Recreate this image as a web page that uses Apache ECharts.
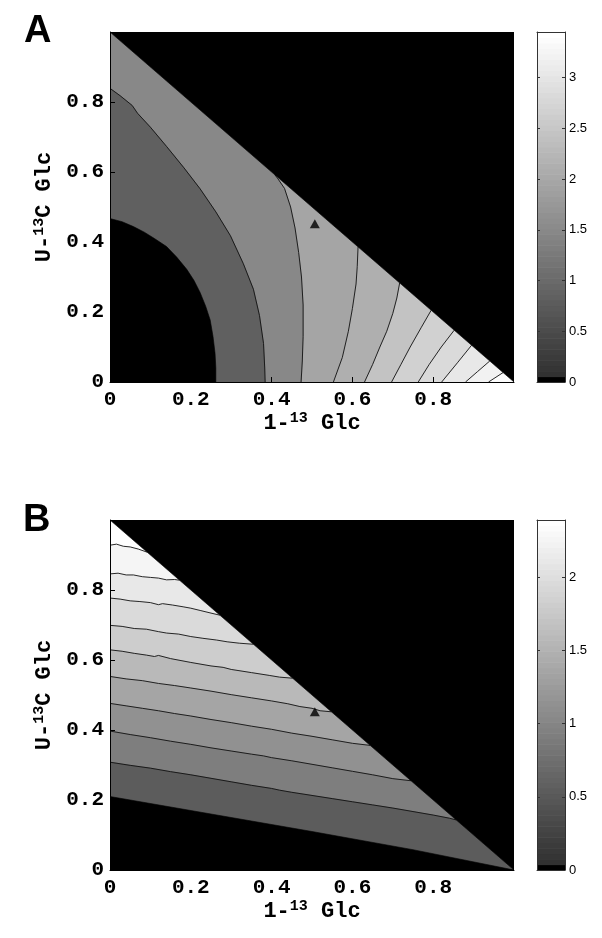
<!DOCTYPE html>
<html><head><meta charset="utf-8">
<script src="https://cdn.jsdelivr.net/npm/echarts@6/dist/echarts.min.js"></script>
<style>html,body{margin:0;padding:0;background:#fff}#c{width:602px;height:938px}</style>
</head><body><div id="c"></div>
<script>
// ---------------- DATA ----------------
var xTicks = [0, 0.2, 0.4, 0.6, 0.8];
var cbMaxA = 3.45, cbMaxB = 2.39;
var markerA = [[0.507, 0.452]];
var markerB = [[0.507, 0.452]];

// Panel A: contour lines (x = 1-13 Glc, y = U-13C Glc), low side toward origin
var innerA = [[0,0.467],[0.03,0.458],[0.058,0.444],[0.085,0.428],[0.11,0.41],[0.14,0.387],[0.165,0.357],[0.19,0.322],[0.208,0.29],[0.223,0.256],[0.237,0.216],[0.248,0.177],[0.255,0.13],[0.26,0.082],[0.262,0.04],[0.262,0]];
var line1A = [[0,0.839],[0.025,0.818],[0.055,0.79],[0.068,0.768],[0.1,0.728],[0.14,0.673],[0.183,0.612],[0.223,0.552],[0.262,0.486],[0.298,0.418],[0.33,0.338],[0.355,0.265],[0.37,0.19],[0.38,0.11],[0.383,0.04],[0.384,0]];
var line2A = [[0.408,0.592],[0.416,0.58],[0.432,0.553],[0.447,0.5],[0.458,0.44],[0.467,0.37],[0.474,0.3],[0.478,0.22],[0.478,0.13],[0.476,0.06],[0.473,0]];
var line3A = [[0.614,0.386],[0.612,0.33],[0.609,0.28],[0.6,0.21],[0.59,0.145],[0.575,0.07],[0.553,0]];
var line4A = [[0.717,0.283],[0.71,0.24],[0.7,0.196],[0.685,0.145],[0.668,0.1],[0.65,0.05],[0.63,0]];
var line5A = [[0.795,0.205],[0.77,0.155],[0.743,0.1],[0.72,0.05],[0.697,0]];
var line6A = [[0.852,0.148],[0.82,0.1],[0.79,0.05],[0.763,0]];
var line7A = [[0.895,0.105],[0.86,0.055],[0.821,0]];
var line8A = [[0.94,0.06],[0.91,0.03],[0.88,0]];
var line9A = [[0.973,0.027],[0.937,0]];
var bandA = [0.85, 1.5, 1.95, 2.15, 2.45, 2.65, 2.85, 3.05, 3.2, 3.37];

// Panel B: contour lines, low side toward bottom
var innerB = [[0,0.21],[0.25,0.16],[0.5,0.11],[0.75,0.058],[1,0]];
var line1B = [[0,0.308],[0.05,0.299],[0.1,0.291],[0.15,0.281],[0.2,0.272],[0.25,0.262],[0.3,0.252],[0.35,0.242],[0.4,0.233],[0.42,0.228],[0.45,0.222],[0.5,0.213],[0.55,0.204],[0.6,0.195],[0.65,0.186],[0.7,0.177],[0.75,0.167],[0.8,0.157],[0.84,0.148],[0.857,0.143]];
var line2B = [[0,0.397],[0.05,0.387],[0.1,0.378],[0.15,0.368],[0.2,0.359],[0.25,0.349],[0.3,0.34],[0.35,0.331],[0.38,0.326],[0.4,0.321],[0.45,0.312],[0.5,0.302],[0.55,0.292],[0.6,0.282],[0.65,0.272],[0.7,0.261],[0.745,0.255]];
var line3B = [[0,0.476],[0.04,0.469],[0.08,0.462],[0.12,0.455],[0.16,0.447],[0.2,0.44],[0.25,0.43],[0.3,0.421],[0.35,0.411],[0.4,0.402],[0.45,0.391],[0.5,0.382],[0.55,0.372],[0.6,0.362],[0.644,0.356]];
var line4B = [[0,0.553],[0.04,0.546],[0.08,0.541],[0.12,0.533],[0.16,0.527],[0.2,0.52],[0.25,0.511],[0.3,0.501],[0.35,0.492],[0.4,0.483],[0.44,0.475],[0.47,0.467],[0.5,0.462],[0.52,0.455],[0.548,0.452]];
var line5B = [[0,0.629],[0.03,0.625],[0.06,0.619],[0.09,0.614],[0.11,0.61],[0.12,0.613],[0.15,0.604],[0.2,0.593],[0.25,0.583],[0.28,0.579],[0.3,0.573],[0.35,0.564],[0.394,0.556],[0.42,0.551],[0.452,0.548]];
var line6B = [[0,0.699],[0.03,0.696],[0.06,0.69],[0.09,0.688],[0.12,0.681],[0.14,0.677],[0.17,0.674],[0.2,0.667],[0.23,0.662],[0.264,0.657],[0.29,0.652],[0.32,0.648],[0.355,0.645]];
var line7B = [[0,0.777],[0.025,0.774],[0.05,0.769],[0.074,0.767],[0.1,0.764],[0.12,0.758],[0.13,0.761],[0.155,0.757],[0.181,0.752],[0.2,0.748],[0.225,0.741],[0.25,0.734],[0.272,0.728]];
var line8B = [[0,0.846],[0.02,0.848],[0.04,0.843],[0.058,0.843],[0.08,0.838],[0.1,0.836],[0.12,0.834],[0.14,0.829],[0.16,0.83],[0.172,0.828]];
var line9B = [[0,0.928],[0.016,0.931],[0.033,0.925],[0.05,0.923],[0.07,0.917],[0.092,0.908]];
var bandB = [0.53, 0.90, 1.15, 1.37, 1.6, 1.8, 1.97, 2.12, 2.25, 2.36];

// feasible domain (x + y <= 1) and infeasible region
var domain = [[0,0],[1,0],[0,1]];
var infeasible = [[0,1],[1,1],[1,0]];
var cornersA = [[0,0],[0,1]];
var cornersB = [[1,0],[0,0]];

// ---------------- RENDER ----------------
var MONO = '"Liberation Mono","Courier New",monospace';
var SANS = '"Liberation Sans",Arial,sans-serif';
var NLEV = 64;
function cmapIdx(i){
  if (i <= 0) return '#000';
  var g = Math.round((0.18 + 0.82 * i / (NLEV - 1)) * 255);
  return 'rgb(' + g + ',' + g + ',' + g + ')';
}
function cmap(v, vmax){
  var i = Math.min(NLEV - 1, Math.floor(v / vmax * NLEV));
  return cmapIdx(i);
}

function buildFills(lines, inner, bands, corners, vmax){
  var polys = [domain], cols = [cmap(bands[bands.length - 1], vmax)];
  for (var k = lines.length - 1; k >= 0; k--){
    polys.push(lines[k].concat(corners));
    cols.push(cmap(bands[k], vmax));
  }
  polys.push(inner.concat(corners));
  cols.push('#000');
  return {polys: polys, cols: cols};
}
function polySeries(polys, cols, xi, yi, z){
  return {
    type: 'custom', xAxisIndex: xi, yAxisIndex: yi, z: z, silent: true, clip: true,
    data: polys.map(function(p, i){ return [p[0][0], p[0][1], i]; }),
    renderItem: function(params, api){
      var i = params.dataIndex;
      var pts = polys[i].map(function(p){ return api.coord(p); });
      return {type: 'polygon', shape: {points: pts},
        style: {fill: cols[i], stroke: cols[i], lineWidth: 0.6}};
    }
  };
}
function lineSeries(pts, xi, yi){
  return {type: 'line', xAxisIndex: xi, yAxisIndex: yi, data: pts, z: 3, silent: true,
    symbol: 'none', clip: true, lineStyle: {color: '#111', width: 0.9}};
}
function colorbarSeries(vmax, xi, yi){
  var strips = [];
  for (var i = 0; i < NLEV; i++) strips.push([0.5, (i + 0.5) * vmax / NLEV, i]);
  return {
    type: 'custom', xAxisIndex: xi, yAxisIndex: yi, silent: true, z: 1,
    data: strips,
    renderItem: function(params, api){
      var i = params.dataIndex;
      var p0 = api.coord([0, i * vmax / NLEV]);
      var p1 = api.coord([1, (i + 1) * vmax / NLEV]);
      return {type: 'rect', shape: {x: p0[0], y: p1[1], width: p1[0] - p0[0], height: p0[1] - p1[1] + 0.6},
        style: {fill: cmapIdx(i)}};
    }
  };
}

var nameRich = {
  m: {fontFamily: MONO, fontSize: 22, fontWeight: 'bold', color: '#000', lineHeight: 24, verticalAlign: 'bottom'},
  s: {fontFamily: MONO, fontSize: 15, fontWeight: 'bold', color: '#000', lineHeight: 15, verticalAlign: 'top'}
};
function fmt(v){ return xTicks.indexOf(+v.toFixed(1)) >= 0 ? String(+v.toFixed(1)) : ''; }
function mainX(grid){
  return {type: 'value', gridIndex: grid, min: 0, max: 1, interval: 0.2, z: 10,
    name: '{m|1-}{s|13}{m| Glc}', nameLocation: 'middle', nameGap: 28,
    nameTextStyle: {rich: nameRich},
    axisLine: {lineStyle: {color: '#000', width: 1}},
    axisTick: {inside: true, length: 5, lineStyle: {color: '#000'}},
    axisLabel: {fontFamily: MONO, fontSize: 21, fontWeight: 'bold', color: '#000', margin: 7, showMaxLabel: false, formatter: fmt},
    splitLine: {show: false}};
}
function mainY(grid){
  return {type: 'value', gridIndex: grid, min: 0, max: 1, interval: 0.2, z: 10,
    name: '{m|U-}{s|13}{m|C Glc}', nameLocation: 'middle', nameGap: 46, nameRotate: 90,
    nameTextStyle: {rich: nameRich},
    axisLine: {lineStyle: {color: '#000', width: 1}},
    axisTick: {inside: true, length: 5, lineStyle: {color: '#000'}},
    axisLabel: {fontFamily: MONO, fontSize: 21, fontWeight: 'bold', color: '#000', margin: 6, showMaxLabel: false, formatter: fmt},
    splitLine: {show: false}};
}
function cbX(grid, pos){
  return {type: 'value', gridIndex: grid, min: 0, max: 1, position: pos, z: 10,
    axisLine: {onZero: false, lineStyle: {color: '#333', width: 1}}, axisTick: {show: false},
    axisLabel: {show: false}, splitLine: {show: false}};
}
function cbY(grid, pos, vmax, labels){
  return {type: 'value', gridIndex: grid, min: 0, max: vmax, interval: 0.5, position: pos, z: 10,
    axisLine: {onZero: false, lineStyle: {color: '#333', width: 1}},
    axisTick: {inside: true, length: 3, lineStyle: {color: '#333'}},
    axisLabel: {show: labels, fontFamily: SANS, fontSize: 13, color: '#000', margin: 4, showMaxLabel: false},
    splitLine: {show: false}};
}

var linesA = [line1A, line2A, line3A, line4A, line5A, line6A, line7A, line8A, line9A];
var linesB = [line1B, line2B, line3B, line4B, line5B, line6B, line7B, line8B, line9B];
var fA = buildFills(linesA, innerA, bandA, cornersA, cbMaxA);
var fB = buildFills(linesB, innerB, bandB, cornersB, cbMaxB);

var series = [];
series.push(polySeries(fA.polys, fA.cols, 0, 0, 1));
linesA.forEach(function(l){ series.push(lineSeries(l, 0, 0)); });
series.push(polySeries([infeasible], ['#000'], 0, 0, 5));
series.push({type: 'scatter', xAxisIndex: 0, yAxisIndex: 0, data: markerA, symbol: 'triangle', symbolSize: [10, 9], itemStyle: {color: '#000'}, z: 6, silent: true});
series.push(colorbarSeries(cbMaxA, 1, 2));

series.push(polySeries(fB.polys, fB.cols, 3, 3, 1));
linesB.forEach(function(l){ series.push(lineSeries(l, 3, 3)); });
series.push(polySeries([infeasible], ['#000'], 3, 3, 5));
series.push({type: 'scatter', xAxisIndex: 3, yAxisIndex: 3, data: markerB, symbol: 'triangle', symbolSize: [10, 9], itemStyle: {color: '#000'}, z: 6, silent: true});
series.push(colorbarSeries(cbMaxB, 4, 5));

var option = {
  animation: false,
  backgroundColor: '#fff',
  title: [
    {text: 'A', left: 19, top: 8, textStyle: {fontFamily: SANS, fontSize: 38, fontWeight: 'bold', color: '#000'}},
    {text: 'B', left: 18, top: 497, textStyle: {fontFamily: SANS, fontSize: 38, fontWeight: 'bold', color: '#000'}}
  ],
  grid: [
    {left: 110, top: 32, width: 404, height: 350},
    {left: 537, top: 32, width: 28, height: 350},
    {left: 110, top: 520, width: 404, height: 350},
    {left: 537, top: 520, width: 28, height: 350}
  ],
  xAxis: [
    mainX(0), cbX(1, 'bottom'), cbX(1, 'top'),
    mainX(2), cbX(3, 'bottom'), cbX(3, 'top')
  ],
  yAxis: [
    mainY(0), cbY(1, 'left', cbMaxA, false), cbY(1, 'right', cbMaxA, true),
    mainY(2), cbY(3, 'left', cbMaxB, false), cbY(3, 'right', cbMaxB, true)
  ],
  series: series
};
var chart = echarts.init(document.getElementById('c'), null, {renderer: 'canvas'});
chart.setOption(option);
</script></body></html>
